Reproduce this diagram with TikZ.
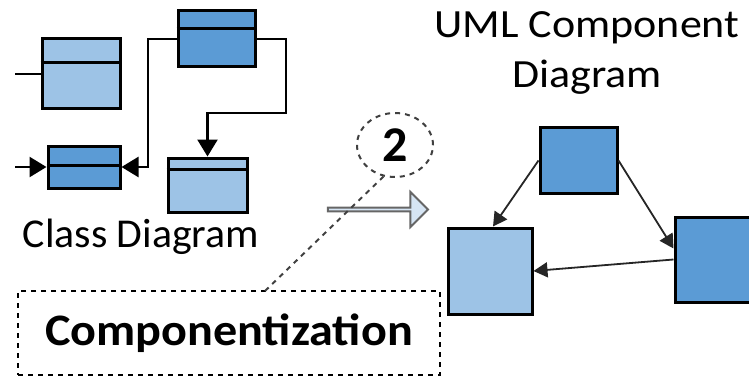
\documentclass[tikz,border=0pt]{standalone}
\usepackage{fontspec}
\usepackage{graphicx}
\setmainfont{Carlito}
\usetikzlibrary{arrows.meta,shapes.geometric,shapes.arrows,calc}
\definecolor{darkblue}{HTML}{5B9BD5}
\definecolor{lightblue}{HTML}{9DC3E6}
\definecolor{paleblue}{HTML}{D6E5F4}
\tikzset{
  classbox/.style={draw=black, line width=3pt, inner sep=0pt},
  compbox/.style={draw=black, line width=3pt, inner sep=0pt},
  wire/.style={draw=black, line width=2.5pt},
  tri/.style={-{Triangle[length=17pt,width=20pt]}},
  dep/.style={draw=black!85, line width=1.8pt, -{Triangle[length=14pt,width=15pt]}},
  label/.style={inner sep=0pt, anchor=base},
}
\begin{document}
\begin{tikzpicture}[x=1pt,y=-1pt]
\useasboundingbox (0,0) rectangle (749,377);
\clip (0,0) rectangle (749,377);

% class diagram: boxes with a header row
\node[classbox, fill=lightblue, minimum width=78pt, minimum height=70pt] (c1) at (81,74) {};
\draw[line width=3pt] (c1.west |- 0,63) -- (c1.east |- 0,63);
\node[classbox, fill=darkblue, minimum width=77pt, minimum height=56pt] (c2) at (216.5,39) {};
\draw[line width=3pt] (c2.west |- 0,29) -- (c2.east |- 0,29);
\node[classbox, fill=darkblue, minimum width=72pt, minimum height=42pt] (c3) at (84,167) {};
\draw[line width=3pt] (c3.west |- 0,165) -- (c3.east |- 0,165);
\node[classbox, fill=lightblue, minimum width=79pt, minimum height=54pt] (c4) at (207.5,185) {};
\draw[line width=3pt] (c4.west |- 0,169) -- (c4.east |- 0,169);

% class diagram connectors
\coordinate (s1) at (15,74);
\coordinate (s3) at (15,167);
\coordinate (j1) at (148,167);
\coordinate (j2) at (286,113);
\draw[wire] (s1) -- (c1.west);
\draw[wire, tri] (s3) -- (c3.west);
\draw[wire, tri] (c2.west) -| (j1) -- (c3.east);
\draw[wire, tri] (c2.east) -| (j2) -| (c4.north);

\node[label, font=\fontsize{41}{45}\selectfont] (cdlabel) at (141,247) {\scalebox{1.02}[1]{Class Diagram}};

% step marker and transition arrow
\node[ellipse, draw=black!75, dashed, dash pattern=on 5pt off 5pt, line width=2pt,
      minimum width=76pt, minimum height=64pt, inner sep=0pt,
      font=\bfseries\fontsize{50}{50}\selectfont] (two) at (395,145) {2};
\node[single arrow, draw=black!60, line width=2pt, fill=paleblue,
      minimum height=100pt, minimum width=35pt, single arrow head extend=8pt,
      inner sep=0pt] (go) at (377,209.5) {};

% componentization step box
\node[draw=black, dashed, dash pattern=on 5pt off 5pt, line width=2pt,
      minimum width=422pt, minimum height=84pt, inner sep=0pt,
      font=\bfseries\fontsize{45}{50}\selectfont] (comp) at (229,333) {\scalebox{1.07}[1]{Componentization}};
\coordinate (cn) at (265,291);
\draw[black!75, line width=2pt, dashed, dash pattern=on 5pt off 5pt] (cn) -- (two.250);

% component diagram
\node[label, font=\fontsize{40}{44}\selectfont] (uml1) at (587,38) {\scalebox{1.1}[1]{UML Component}};
\node[label, font=\fontsize{40}{44}\selectfont] (uml2) at (587,88) {\scalebox{1.1}[1]{Diagram}};

\node[compbox, fill=darkblue, minimum width=77pt, minimum height=65pt] (t) at (578.5,160.5) {};
\node[compbox, fill=lightblue, minimum width=84pt, minimum height=86pt] (l) at (490,271) {};
\node[compbox, fill=darkblue, minimum width=85pt, minimum height=85pt] (r) at (717.5,259.5) {};

\draw[dep] (t.west) -- ($(l.north)+(3,0)$);
\draw[dep] (t.east) -- ($(r.west)+(0,-11)$);
\draw[dep] (r.west) -- (l.east);
\end{tikzpicture}
\end{document}
